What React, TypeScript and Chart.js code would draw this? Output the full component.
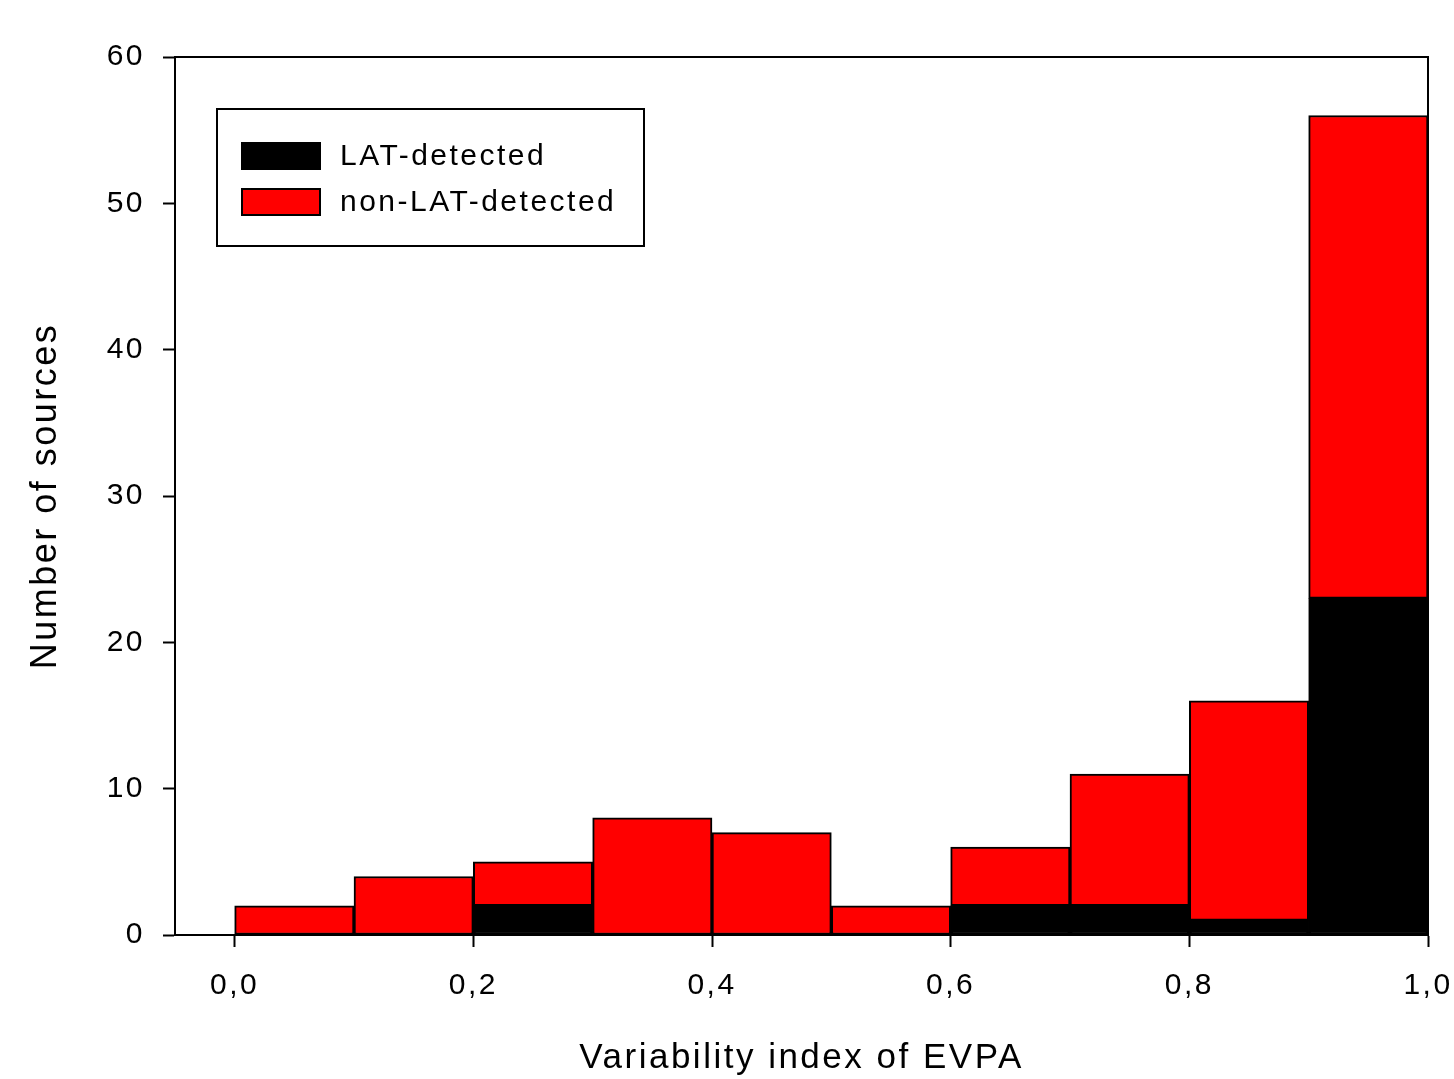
import React, { useEffect, useRef } from 'react';
import { Chart, registerables } from 'chart.js';

Chart.register(...registerables);

// ---- data ----
const binCenters = [0.05, 0.15, 0.25, 0.35, 0.45, 0.55, 0.65, 0.75, 0.85, 0.95];
const latDetected = [0, 0, 2, 0, 0, 0, 2, 2, 1, 23];
const nonLatDetected = [2, 4, 3, 8, 7, 2, 4, 9, 15, 33];
const xTickValues = [0, 0.2, 0.4, 0.6, 0.8, 1.0];
const xTickLabels = ['0,0', '0,2', '0,4', '0,6', '0,8', '1,0'];
const yTickValues = [0, 10, 20, 30, 40, 50, 60];
const legendLabels = ['LAT-detected', 'non-LAT-detected'];
const seriesColors = ['#000000', '#ff0000'];
const xTitle = 'Variability index of EVPA';
const yTitle = 'Number of sources';

const FONT = '"Liberation Sans", Arial, Helvetica, sans-serif';

const spacingPlugin = {
  id: 'spacing',
  beforeDraw(chart: any) {
    const ctx = chart.ctx as any;
    ctx.letterSpacing = '2.5px';
  },
};

const framePlugin = {
  id: 'frame',
  afterDraw(chart: any) {
    const { ctx, chartArea } = chart;
    ctx.save();
    ctx.strokeStyle = '#000';
    ctx.lineWidth = 2;
    ctx.beginPath();
    ctx.moveTo(chartArea.left, chartArea.top);
    ctx.lineTo(chartArea.right, chartArea.top);
    ctx.lineTo(chartArea.right, chartArea.bottom);
    ctx.stroke();

    // legend box
    const bx = 217, by = 109, bw = 427, bh = 137;
    ctx.fillStyle = '#fff';
    ctx.fillRect(bx, by, bw, bh);
    ctx.strokeRect(bx, by, bw, bh);
    const rows = [156, 202];
    legendLabels.forEach((lab, i) => {
      const cy = rows[i];
      ctx.fillStyle = seriesColors[i];
      ctx.fillRect(242, cy - 13, 78, 26);
      ctx.lineWidth = 2;
      ctx.strokeStyle = '#000';
      ctx.strokeRect(242, cy - 13, 78, 26);
      ctx.fillStyle = '#000';
      (ctx as any).letterSpacing = '2.5px';
      ctx.font = `30px ${FONT}`;
      ctx.textAlign = 'left';
      ctx.textBaseline = 'middle';
      ctx.fillText(lab, 340, cy + 1);
    });
    ctx.restore();
  },
};

export default function App() {
  const ref = useRef<HTMLCanvasElement | null>(null);
  useEffect(() => {
    if (!ref.current) return;
    Chart.defaults.font.family = FONT;
    Chart.defaults.color = '#000';
    const chart = new Chart(ref.current, {
      type: 'bar',
      data: {
        datasets: [
          {
            label: legendLabels[0],
            data: binCenters.map((x, i) => ({ x, y: latDetected[i] })),
            backgroundColor: seriesColors[0],
            borderColor: '#000',
            borderWidth: 2,
            borderSkipped: false,
            categoryPercentage: 1,
            barPercentage: 1,
          },
          {
            label: legendLabels[1],
            data: binCenters.map((x, i) => ({ x, y: nonLatDetected[i] })),
            backgroundColor: seriesColors[1],
            borderColor: '#000',
            borderWidth: 2,
            borderSkipped: false,
            categoryPercentage: 1,
            barPercentage: 1,
          },
        ],
      },
      options: {
        responsive: false,
        animation: false,
        layout: { padding: { top: 57, right: 26, left: 0, bottom: 0 } },
        plugins: {
          legend: { display: false },
          tooltip: { enabled: false },
        },
        scales: {
          x: {
            type: 'linear',
            min: -0.05,
            max: 1.0,
            offset: false,
            stacked: true,
            grid: {
              offset: false,
              drawOnChartArea: false,
              drawTicks: true,
              tickLength: 12,
              tickWidth: 2,
              tickColor: '#000',
            },
            border: { display: true, color: '#000', width: 2 },
            afterBuildTicks: (s: any) => {
              s.ticks = xTickValues.map((v) => ({ value: v }));
            },
            afterFit: (s: any) => {
              s.height = 144;
              s.paddingLeft = 0;
              s.paddingRight = 0;
            },
            ticks: {
              autoSkip: false,
              maxRotation: 0,
              padding: 21,
              font: { size: 30 },
              color: '#000',
              callback: (_v: any, i: number) => xTickLabels[i],
            },
            title: {
              display: true,
              text: xTitle,
              font: { size: 35 },
              color: '#000',
              padding: { top: 0, bottom: 0 },
            },
          },
          y: {
            type: 'linear',
            min: 0,
            max: 60,
            stacked: true,
            grid: {
              drawOnChartArea: false,
              drawTicks: true,
              tickLength: 12,
              tickWidth: 2,
              tickColor: '#000',
            },
            border: { display: true, color: '#000', width: 2 },
            afterBuildTicks: (s: any) => {
              s.ticks = yTickValues.map((v) => ({ value: v }));
            },
            afterFit: (s: any) => {
              s.width = 175;
              s.paddingTop = 0;
              s.paddingBottom = 0;
            },
            ticks: {
              padding: 18,
              font: { size: 30 },
              color: '#000',
            },
            title: {
              display: true,
              text: yTitle,
              font: { size: 36 },
              color: '#000',
              padding: { top: 24, bottom: 0 },
            },
          },
        },
      },
      plugins: [spacingPlugin, framePlugin],
    } as any);
    return () => chart.destroy();
  }, []);
  return (
    <div style={{ position: 'fixed', left: 0, top: 0, width: 1454, height: 1079, background: '#fff' }}>
      <canvas ref={ref} width={1454} height={1079} style={{ display: 'block' }} />
    </div>
  );
}
